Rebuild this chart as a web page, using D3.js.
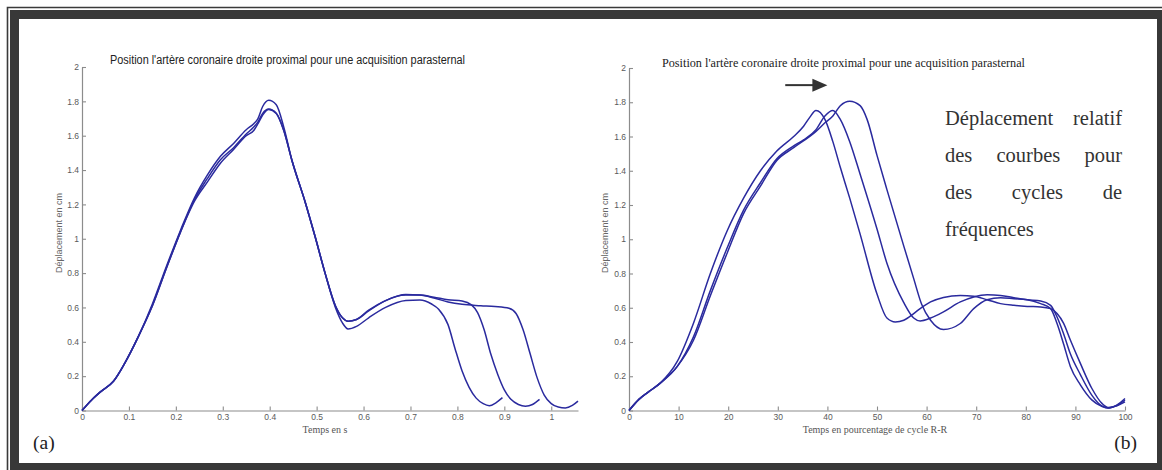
<!DOCTYPE html>
<html><head><meta charset="utf-8">
<script src="https://cdn.jsdelivr.net/npm/d3@7"></script>
<style>
html,body{margin:0;padding:0;background:#fff;}
svg{display:block;}
</style></head>
<body>
<svg id="chart" width="1162" height="470"></svg>
<script>
// ---------- DATA ----------
const titleLeft = "Position l'artère coronaire droite proximal pour une acquisition parasternal";
const titleRight = "Position l'artère coronaire droite proximal pour une acquisition parasternal";
const yLabel = "Déplacement en cm";
const xLabelLeft = "Temps en s";
const xLabelRight = "Temps en pourcentage de cycle R-R";
const yTicks = [0, 0.2, 0.4, 0.6, 0.8, 1, 1.2, 1.4, 1.6, 1.8, 2];
const yTickLabels = ["0", "0.2", "0.4", "0.6", "0.8", "1", "1.2", "1.4", "1.6", "1.8", "2"];
const xTicksLeft = [0, 0.1, 0.2, 0.3, 0.4, 0.5, 0.6, 0.7, 0.8, 0.9, 1];
const xTickLabelsLeft = ["0", "0.1", "0.2", "0.3", "0.4", "0.5", "0.6", "0.7", "0.8", "0.9", "1"];
const xTicksRight = [0, 10, 20, 30, 40, 50, 60, 70, 80, 90, 100];
const xTickLabelsRight = ["0", "10", "20", "30", "40", "50", "60", "70", "80", "90", "100"];
const xMaxLeft = 1.057;
const yMax = 2;

// Left panel: time (s) and displacement (cm) for the three cycles
const tShort = [0, 0.02, 0.04, 0.067, 0.09, 0.12, 0.15, 0.18, 0.21, 0.24, 0.267, 0.295, 0.323, 0.35, 0.366, 0.375, 0.385, 0.398, 0.414, 0.43, 0.447, 0.476, 0.497, 0.518, 0.54, 0.555, 0.567, 0.585, 0.611, 0.647, 0.69, 0.72, 0.745, 0.76, 0.78, 0.795, 0.81, 0.825, 0.84, 0.855, 0.868, 0.882, 0.896];
const vShort = [0, 0.06, 0.11, 0.17, 0.27, 0.43, 0.62, 0.84, 1.05, 1.24, 1.37, 1.48, 1.555, 1.635, 1.67, 1.70, 1.77, 1.806, 1.78, 1.65, 1.46, 1.21, 1.01, 0.80, 0.60, 0.51, 0.475, 0.49, 0.54, 0.60, 0.64, 0.643, 0.62, 0.59, 0.50, 0.36, 0.23, 0.135, 0.072, 0.04, 0.028, 0.045, 0.075];
const tMid = [0, 0.02, 0.04, 0.067, 0.09, 0.12, 0.15, 0.18, 0.21, 0.24, 0.267, 0.295, 0.323, 0.35, 0.366, 0.375, 0.385, 0.398, 0.414, 0.43, 0.447, 0.476, 0.497, 0.518, 0.54, 0.555, 0.567, 0.585, 0.611, 0.647, 0.69, 0.72, 0.75, 0.78, 0.81, 0.83, 0.843, 0.857, 0.871, 0.886, 0.9, 0.914, 0.93, 0.945, 0.96, 0.975];
const vMid = [0, 0.06, 0.11, 0.17, 0.27, 0.43, 0.61, 0.83, 1.04, 1.23, 1.35, 1.46, 1.53, 1.61, 1.65, 1.68, 1.73, 1.755, 1.73, 1.63, 1.46, 1.21, 1.01, 0.80, 0.61, 0.54, 0.52, 0.53, 0.58, 0.64, 0.672, 0.672, 0.66, 0.645, 0.638, 0.615, 0.57, 0.47, 0.33, 0.21, 0.12, 0.065, 0.035, 0.025, 0.035, 0.065];
const tLong = [0, 0.02, 0.04, 0.067, 0.09, 0.12, 0.15, 0.18, 0.21, 0.24, 0.267, 0.295, 0.323, 0.35, 0.366, 0.375, 0.385, 0.398, 0.414, 0.43, 0.447, 0.476, 0.497, 0.518, 0.54, 0.555, 0.567, 0.585, 0.611, 0.647, 0.69, 0.72, 0.75, 0.78, 0.81, 0.85, 0.88, 0.91, 0.925, 0.94, 0.955, 0.97, 0.985, 1.0, 1.015, 1.03, 1.045, 1.057];
const vLong = [0, 0.06, 0.11, 0.17, 0.27, 0.43, 0.61, 0.83, 1.04, 1.22, 1.33, 1.44, 1.52, 1.60, 1.63, 1.67, 1.72, 1.752, 1.73, 1.63, 1.46, 1.21, 1.01, 0.80, 0.61, 0.54, 0.52, 0.53, 0.585, 0.64, 0.675, 0.672, 0.655, 0.632, 0.618, 0.61, 0.605, 0.595, 0.565, 0.47, 0.33, 0.19, 0.09, 0.04, 0.02, 0.015, 0.03, 0.055];

// Right panel: percentage of R-R cycle and displacement (cm)
const pA = [0, 2, 4, 6.3, 9.7, 13.0, 16.4, 19.8, 23.1, 26.5, 29.8, 33.2, 35.2, 36.4, 37.7, 39.5, 41.1, 42.6, 44.5, 46.6, 50, 52, 53.7, 55.4, 57.4, 58.7, 60.8, 63.4, 66.8, 69.5, 72.2, 74.9, 77.6, 80.3, 83, 85, 86.3, 87.6, 89, 91, 93.3, 95.4, 96.6, 98.4, 100];
const vA = [0, 0.065, 0.11, 0.16, 0.285, 0.51, 0.80, 1.05, 1.24, 1.40, 1.515, 1.60, 1.66, 1.71, 1.752, 1.70, 1.57, 1.42, 1.24, 1.03, 0.68, 0.54, 0.517, 0.527, 0.566, 0.595, 0.634, 0.66, 0.672, 0.667, 0.647, 0.624, 0.614, 0.608, 0.605, 0.595, 0.566, 0.51, 0.41, 0.275, 0.13, 0.04, 0.018, 0.028, 0.05];
const pB = [0, 2, 4, 6.3, 9.7, 13.0, 16.4, 19.8, 23.1, 26.5, 29.8, 33.2, 35.2, 37.7, 39.5, 41.1, 42.6, 44.5, 46.6, 50, 52, 55.4, 57.4, 58.7, 60.8, 63.4, 66.8, 69.5, 72.2, 74.9, 77.6, 80.3, 83, 85, 86.3, 87.6, 89, 91, 93.3, 95.4, 96.6, 98.4, 100];
const vB = [0, 0.065, 0.11, 0.16, 0.256, 0.43, 0.70, 0.95, 1.17, 1.33, 1.47, 1.545, 1.58, 1.64, 1.72, 1.752, 1.70, 1.57, 1.38, 1.06, 0.86, 0.63, 0.54, 0.523, 0.54, 0.576, 0.634, 0.663, 0.676, 0.672, 0.659, 0.647, 0.64, 0.614, 0.546, 0.45, 0.33, 0.21, 0.09, 0.025, 0.015, 0.03, 0.06];
const pC = [0, 2, 4, 6.3, 9.7, 13.0, 16.4, 19.8, 23.1, 26.5, 29.8, 33.2, 37.7, 39.5, 41.1, 42.6, 44.5, 46.6, 48, 50, 52, 55.4, 57.4, 59, 60.8, 63.4, 66.8, 69.5, 72.2, 74.9, 77.6, 80.3, 83, 85, 86.3, 87.6, 89, 91, 93.3, 95.4, 96.6, 98.4, 100];
const vC = [0, 0.065, 0.11, 0.16, 0.256, 0.41, 0.67, 0.92, 1.15, 1.31, 1.46, 1.535, 1.63, 1.68, 1.72, 1.78, 1.806, 1.78, 1.70, 1.49, 1.29, 0.96, 0.77, 0.62, 0.527, 0.473, 0.508, 0.595, 0.647, 0.659, 0.653, 0.647, 0.624, 0.595, 0.508, 0.39, 0.256, 0.15, 0.062, 0.023, 0.014, 0.033, 0.07];

const noteLines = [["Déplacement", "relatif"], ["des", "courbes", "pour"], ["des", "cycles", "de"], ["fréquences"]];
const panelTags = ["(a)", "(b)"];

// ---------- DRAW ----------
const svg = d3.select("#chart");
const lineColor = "#2a2a9e";
const axisColor = "#8c8c8c";
const tickTextColor = "#5a5a5a";
const sans = "'Liberation Sans', Arial, sans-serif";
const serif = "'Liberation Serif', 'Times New Roman', serif";

// frame
svg.append("rect").attr("x", 0).attr("y", 0).attr("width", 1162).attr("height", 470).attr("fill", "#fff");
svg.append("rect").attr("x", 10).attr("y", 10).attr("width", 1152).attr("height", 460).attr("fill", "#383838");
svg.append("rect").attr("x", 19).attr("y", 19).attr("width", 1138).attr("height", 444).attr("fill", "#fff");
svg.append("path").attr("d", "M7.5,470 L7.5,7.5 L1162,7.5").attr("fill", "none").attr("stroke", "#3a3a3a").attr("stroke-width", 1.6);

function zip(xs, ys) { return xs.map((x, i) => [x, ys[i]]); }

function panel(opts) {
  const x = d3.scaleLinear().domain(opts.xDomain).range(opts.xRange);
  const y = d3.scaleLinear().domain([0, yMax]).range(opts.yRange);
  const g = svg.append("g");

  const ax = g.append("g").attr("transform", `translate(0,${opts.yRange[0]})`)
    .call(d3.axisBottom(x).tickValues(opts.xTicks).tickFormat((d, i) => opts.xTickLabels[i])
      .tickSizeInner(-4).tickSizeOuter(0).tickPadding(3.5));
  const ay = g.append("g").attr("transform", `translate(${opts.xRange[0]},0)`)
    .call(d3.axisLeft(y).tickValues(yTicks).tickFormat((d, i) => yTickLabels[i])
      .tickSizeInner(-4).tickSizeOuter(0).tickPadding(3));
  [ax, ay].forEach(a => {
    a.select(".domain").attr("stroke", axisColor).attr("stroke-width", 1.2);
    a.selectAll(".tick line").attr("stroke", axisColor).attr("stroke-width", 1.1);
    a.selectAll(".tick text").attr("fill", tickTextColor).style("font-family", sans).style("font-size", "8.5px");
  });

  const line = d3.line().x(d => x(d[0])).y(d => y(d[1])).curve(d3.curveMonotoneX);
  opts.series.forEach(s => {
    g.append("path").datum(s).attr("d", line).attr("fill", "none")
      .attr("stroke", lineColor).attr("stroke-width", 1.5).attr("stroke-linejoin", "round");
  });

  // title
  const t = g.append("text").attr("x", opts.titleX).attr("y", opts.titleY).text(opts.title)
    .attr("fill", opts.titleColor).style("font-family", opts.titleFont).style("font-size", opts.titleSize + "px");
  t.attr("textLength", opts.titleW).attr("lengthAdjust", "spacingAndGlyphs");

  // x label
  g.append("text").attr("x", opts.xLabelX).attr("y", 433).attr("text-anchor", "middle")
    .text(opts.xLabel).attr("fill", "#555").style("font-family", serif).style("font-size", "10px");
  // y label
  g.append("text").attr("transform", `translate(${opts.yLabelX},233) rotate(-90)`)
    .attr("text-anchor", "middle").text(yLabel).attr("fill", "#666")
    .style("font-family", sans).style("font-size", "9px");
  return { x, y, g };
}

const left = panel({
  xDomain: [0, xMaxLeft], xRange: [82, 578], yRange: [410.5, 67],
  xTicks: xTicksLeft, xTickLabels: xTickLabelsLeft,
  series: [zip(tShort, vShort), zip(tMid, vMid), zip(tLong, vLong)],
  title: titleLeft, titleX: 110, titleY: 64, titleW: 355, titleSize: 12.5, titleFont: sans, titleColor: "#222",
  xLabel: xLabelLeft, xLabelX: 325, yLabelX: 62
});

const right = panel({
  xDomain: [0, 100], xRange: [629, 1125], yRange: [410.5, 68],
  xTicks: xTicksRight, xTickLabels: xTickLabelsRight,
  series: [zip(pA, vA), zip(pB, vB), zip(pC, vC)],
  title: titleRight, titleX: 662, titleY: 66.5, titleW: 363, titleSize: 11.5, titleFont: serif, titleColor: "#222",
  xLabel: xLabelRight, xLabelX: 875, yLabelX: 608
});

// arrow annotation (right panel)
const ax0 = right.x(31.5), ax1 = right.x(40), ay0 = right.y(1.9);
svg.append("line").attr("x1", ax0).attr("x2", ax1 - 14).attr("y1", ay0).attr("y2", ay0)
  .attr("stroke", "#333").attr("stroke-width", 2);
svg.append("path").attr("d", `M${ax1 - 15},${ay0 - 6.5} L${ax1},${ay0} L${ax1 - 15},${ay0 + 6.5} Z`).attr("fill", "#333");

// justified note
const noteX0 = 945, noteX1 = 1122, noteY0 = 125, noteDy = 37;
noteLines.forEach((words, li) => {
  const y = noteY0 + li * noteDy;
  const nodes = words.map(w => svg.append("text").attr("y", y).text(w)
    .attr("fill", "#333").style("font-family", serif).style("font-size", "20.5px"));
  const widths = nodes.map(n => n.node().getComputedTextLength());
  if (words.length === 1) { nodes[0].attr("x", noteX0); return; }
  const total = d3.sum(widths);
  const gap = (noteX1 - noteX0 - total) / (words.length - 1);
  let cx = noteX0;
  nodes.forEach((n, i) => { n.attr("x", cx); cx += widths[i] + gap; });
});

// panel tags
svg.append("text").attr("x", 33).attr("y", 448.5).text(panelTags[0]).attr("fill", "#222")
  .style("font-family", serif).style("font-size", "19.5px");
svg.append("text").attr("x", 1137).attr("y", 448.5).attr("text-anchor", "end").text(panelTags[1]).attr("fill", "#222")
  .style("font-family", serif).style("font-size", "19.5px");
</script>
</body></html>
